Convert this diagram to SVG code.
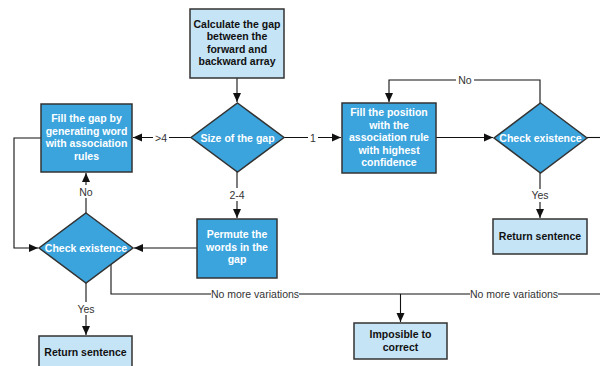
<svg xmlns="http://www.w3.org/2000/svg" width="600" height="366" viewBox="0 0 600 366">
  <style>
    .dark { fill: #3ba4dd; stroke: #333333; stroke-width: 1.5; }
    .light { fill: #c5e4f6; stroke: #333333; stroke-width: 1.5; }
    .wt { font-family: "Liberation Sans", Arial, sans-serif; font-size: 10.5px; font-weight: bold; fill: #ffffff; text-anchor: middle; }
    .bt { font-family: "Liberation Sans", Arial, sans-serif; font-size: 10.5px; font-weight: bold; fill: #111111; text-anchor: middle; }
    .lbl { font-family: "Liberation Sans", Arial, sans-serif; font-size: 10.5px; fill: #333333; text-anchor: middle; }
    .edge { fill: none; stroke: #111111; stroke-width: 1.1; }
    .lblbg { fill: #ffffff; }
  </style>
  <defs>
    <marker id="arrow" markerWidth="10" markerHeight="10" refX="9" refY="5" orient="auto" markerUnits="userSpaceOnUse">
      <path d="M0,1 L9,5 L0,9 Z" fill="#111111"/>
    </marker>
  </defs>
  <rect width="600" height="366" fill="#ffffff"/>

  <g id="connectors">
    <!-- calculate -> size -->
    <path class="edge" d="M237,78 L237,102" marker-end="url(#arrow)"/>
    <!-- size -> fill gap (>4) -->
    <path class="edge" d="M191,137.5 L133,137.5" marker-end="url(#arrow)"/>
    <!-- size -> fill position (1) -->
    <path class="edge" d="M284,137.5 L341,137.5" marker-end="url(#arrow)"/>
    <!-- size -> permute (2-4) -->
    <path class="edge" d="M237,172 L237,218" marker-end="url(#arrow)"/>
    <!-- fill position -> right check -->
    <path class="edge" d="M436,137.5 L493,137.5" marker-end="url(#arrow)"/>
    <!-- right check -> off to the right -->
    <path class="edge" d="M587,137.5 L600,137.5"/>
    <!-- right check No loop -->
    <path class="edge" d="M540,103 L540,80 L389,80 L389,102" marker-end="url(#arrow)"/>
    <!-- right check Yes -->
    <path class="edge" d="M540,173 L540,218" marker-end="url(#arrow)"/>
    <!-- fill gap -> left check -->
    <path class="edge" d="M41,138 L14,138 L14,248 L38,248" marker-end="url(#arrow)"/>
    <!-- permute -> left check -->
    <path class="edge" d="M197,248 L134,248" marker-end="url(#arrow)"/>
    <!-- left check No -> fill gap -->
    <path class="edge" d="M86,213 L86,173" marker-end="url(#arrow)"/>
    <!-- left check Yes -> return -->
    <path class="edge" d="M86,283 L86,335" marker-end="url(#arrow)"/>
    <!-- no more variations -->
    <path class="edge" d="M111,264 L111,294 L600,294"/>
    <path class="edge" d="M400.5,294 L400.5,322" marker-end="url(#arrow)"/>

    <!-- labels -->
    <rect class="lblbg" x="153" y="131" width="16" height="13"/>
    <text class="lbl" x="161" y="141.5">&gt;4</text>
    <rect class="lblbg" x="308" y="131" width="10" height="13"/>
    <text class="lbl" x="313" y="141.5">1</text>
    <rect class="lblbg" x="227" y="188" width="20" height="13"/>
    <text class="lbl" x="237" y="198.5">2-4</text>
    <rect class="lblbg" x="456" y="73" width="18" height="13"/>
    <text class="lbl" x="465" y="83.5">No</text>
    <rect class="lblbg" x="531" y="189" width="19" height="13"/>
    <text class="lbl" x="540" y="199">Yes</text>
    <rect class="lblbg" x="77" y="185" width="18" height="13"/>
    <text class="lbl" x="86" y="195.5">No</text>
    <rect class="lblbg" x="76" y="302" width="20" height="13"/>
    <text class="lbl" x="86" y="312.5">Yes</text>
    <rect class="lblbg" x="211" y="288" width="88" height="13"/>
    <text class="lbl" x="255" y="297.5">No more variations</text>
    <rect class="lblbg" x="470" y="288" width="88" height="13"/>
    <text class="lbl" x="514" y="297.5">No more variations</text>
  </g>

  <g id="calculate">
    <rect class="light" x="190" y="9" width="94" height="69"/>
    <text class="bt" x="237" y="27.5">Calculate the gap</text>
    <text class="bt" x="237" y="40">between the</text>
    <text class="bt" x="237" y="52.5">forward and</text>
    <text class="bt" x="237" y="65">backward array</text>
  </g>

  <g id="size-of-gap">
    <polygon class="dark" points="237.5,103 284,137.5 237.5,172 191,137.5"/>
    <text class="wt" x="237.5" y="141.5">Size of the gap</text>
  </g>

  <g id="fill-gap">
    <rect class="dark" x="41" y="104" width="91" height="68"/>
    <text class="wt" x="86.5" y="122">Fill the gap by</text>
    <text class="wt" x="86.5" y="134.5">generating word</text>
    <text class="wt" x="86.5" y="147">with association</text>
    <text class="wt" x="86.5" y="159.5">rules</text>
  </g>

  <g id="fill-position">
    <rect class="dark" x="342" y="103" width="94" height="70"/>
    <text class="wt" x="389" y="116">Fill the position</text>
    <text class="wt" x="389" y="128.5">with the</text>
    <text class="wt" x="389" y="141">association rule</text>
    <text class="wt" x="389" y="153.5">with highest</text>
    <text class="wt" x="389" y="166">confidence</text>
  </g>

  <g id="check-right">
    <polygon class="dark" points="540.5,103 587,138 540.5,173 494,138"/>
    <text class="wt" x="540.5" y="141.5">Check existence</text>
  </g>

  <g id="return-right">
    <rect class="light" x="493" y="219" width="94" height="35"/>
    <text class="bt" x="540" y="240">Return sentence</text>
  </g>

  <g id="permute">
    <rect class="dark" x="197" y="219" width="80" height="59"/>
    <text class="wt" x="237" y="238">Permute the</text>
    <text class="wt" x="237" y="250.5">words in the</text>
    <text class="wt" x="237" y="263">gap</text>
  </g>

  <g id="check-left">
    <polygon class="dark" points="86,213 133,248 86,283 39,248"/>
    <text class="wt" x="86" y="252">Check existence</text>
  </g>

  <g id="return-left">
    <rect class="light" x="39" y="336" width="93" height="36"/>
    <text class="bt" x="85.5" y="356">Return sentence</text>
  </g>

  <g id="impossible">
    <rect class="light" x="354" y="323" width="93" height="36"/>
    <text class="bt" x="400.5" y="338">Imposible to</text>
    <text class="bt" x="400.5" y="350.5">correct</text>
  </g>
</svg>
